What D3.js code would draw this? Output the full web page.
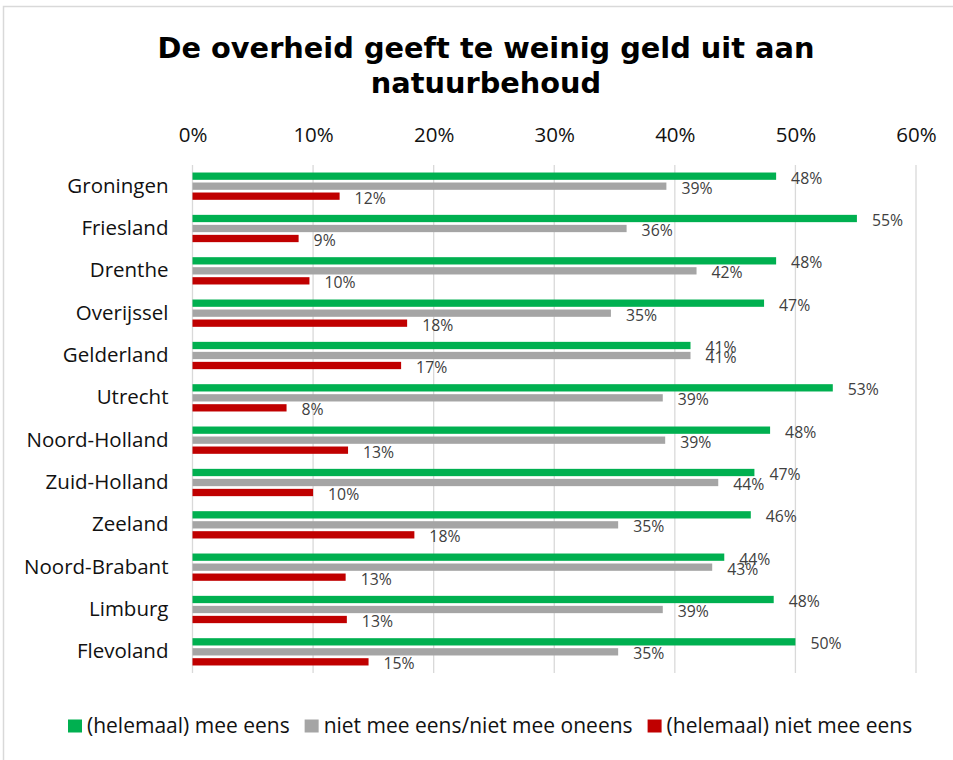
<!DOCTYPE html>
<html>
<head>
<meta charset="utf-8">
<script src="https://cdn.jsdelivr.net/npm/d3@7"></script>
<style>
  body { margin: 0; background: #fff; }
  svg { display: block; }
</style>
</head>
<body>
<div id="chart"></div>
<script>
const provinces = ["Groningen", "Friesland", "Drenthe", "Overijssel", "Gelderland", "Utrecht",
  "Noord-Holland", "Zuid-Holland", "Zeeland", "Noord-Brabant", "Limburg", "Flevoland"];
const meeEens =    [0.484, 0.551, 0.484, 0.474, 0.413, 0.531, 0.479, 0.466, 0.463, 0.441, 0.482, 0.500];
const neutraal =   [0.393, 0.360, 0.418, 0.347, 0.413, 0.390, 0.392, 0.436, 0.353, 0.431, 0.390, 0.353];
const nietEens =   [0.122, 0.088, 0.097, 0.178, 0.173, 0.078, 0.129, 0.100, 0.184, 0.127, 0.128, 0.146];
const seriesNames = ["(helemaal) mee eens", "niet mee eens/niet mee oneens", "(helemaal) niet mee eens"];
const seriesColors = ["#00b050", "#a5a5a5", "#c00000"];
const xTicks = [0, 0.1, 0.2, 0.3, 0.4, 0.5, 0.6];

const width = 953, height = 760;
const font = "'Open Sans', sans-serif";

const svg = d3.select("#chart").append("svg")
  .attr("width", width)
  .attr("height", height);

// chart frame
svg.append("rect")
  .attr("x", 3.5).attr("y", 6.5)
  .attr("width", 1000).attr("height", 800)
  .attr("fill", "#fff")
  .attr("stroke", "#d9d9d9")
  .attr("stroke-width", 1.5);

// title
svg.append("text")
  .attr("x", 486).attr("y", 58)
  .attr("text-anchor", "middle")
  .style("font-family", "'DejaVu Sans', sans-serif")
  .style("font-weight", "bold")
  .style("font-size", "28.8px")
  .selectAll("tspan")
  .data(["De overheid geeft te weinig geld uit aan", "natuurbehoud"])
  .join("tspan")
    .attr("x", 486)
    .attr("dy", (d, i) => i ? 35 : 0)
    .text(d => d);

const x = d3.scaleLinear()
  .domain([0, 0.6])
  .range([192.5, 916]);

const y = d3.scaleBand()
  .domain(provinces)
  .range([165, 673]);

const inner = d3.scaleBand()
  .domain(d3.range(3))
  .range([y.bandwidth() / 2 - 13.65, y.bandwidth() / 2 + 13.65])
  .paddingInner(0.27);

// gridlines
svg.append("g")
  .selectAll("line")
  .data(xTicks)
  .join("line")
    .attr("x1", d => x(d)).attr("x2", d => x(d))
    .attr("y1", 165).attr("y2", 673)
    .attr("stroke", "#d9d9d9")
    .attr("stroke-width", 1.3);

// top axis
const xAxis = svg.append("g")
  .attr("transform", "translate(0,142)")
  .call(d3.axisTop(x).tickValues(xTicks).tickFormat(d3.format(".0%")).tickSize(0).tickPadding(0));
xAxis.select(".domain").remove();
xAxis.selectAll("text")
  .style("font-family", font)
  .style("font-size", "20.5px")
  .attr("fill", "#111");

// category axis
const yAxis = svg.append("g")
  .attr("transform", `translate(${x(0)},0)`)
  .call(d3.axisLeft(y).tickSize(0).tickPadding(24));
yAxis.select(".domain").remove();
yAxis.selectAll("text")
  .style("font-family", font)
  .style("font-size", "20.5px")
  .attr("fill", "#111");

// bars
const rows = provinces.map((p, i) => ({
  province: p,
  values: [meeEens[i], neutraal[i], nietEens[i]]
}));

const groups = svg.append("g")
  .selectAll("g")
  .data(rows)
  .join("g")
    .attr("transform", d => `translate(0,${y(d.province)})`);

groups.selectAll("rect")
  .data(d => d.values.map((v, k) => ({v, k})))
  .join("rect")
    .attr("x", x(0))
    .attr("y", d => inner(d.k))
    .attr("width", d => x(d.v) - x(0))
    .attr("height", inner.bandwidth())
    .attr("fill", d => seriesColors[d.k]);

groups.selectAll("text")
  .data(d => d.values.map((v, k) => ({v, k})))
  .join("text")
    .attr("x", d => x(d.v) + 15)
    .attr("y", d => inner(d.k) + inner.bandwidth() / 2 + 2)
    .attr("dy", "0.35em")
    .style("font-family", font)
    .style("font-size", "15.8px")
    .attr("fill", "#404040")
    .text(d => d3.format(".0%")(d.v));

// legend
const legend = svg.append("g")
  .attr("transform", "translate(68,726)");
let lx = 0;
seriesNames.forEach((name, k) => {
  const item = legend.append("g").attr("transform", `translate(${lx},0)`);
  item.append("rect")
    .attr("x", 0).attr("y", -6.5)
    .attr("width", 14).attr("height", 13)
    .attr("fill", seriesColors[k]);
  const t = item.append("text")
    .attr("x", 19).attr("y", 0)
    .attr("dy", "0.35em")
    .style("font-family", font)
    .style("font-size", "21px")
    .attr("fill", "#111")
    .text(name);
  lx += 19 + t.node().getComputedTextLength() + 15;
});
</script>
</body>
</html>
